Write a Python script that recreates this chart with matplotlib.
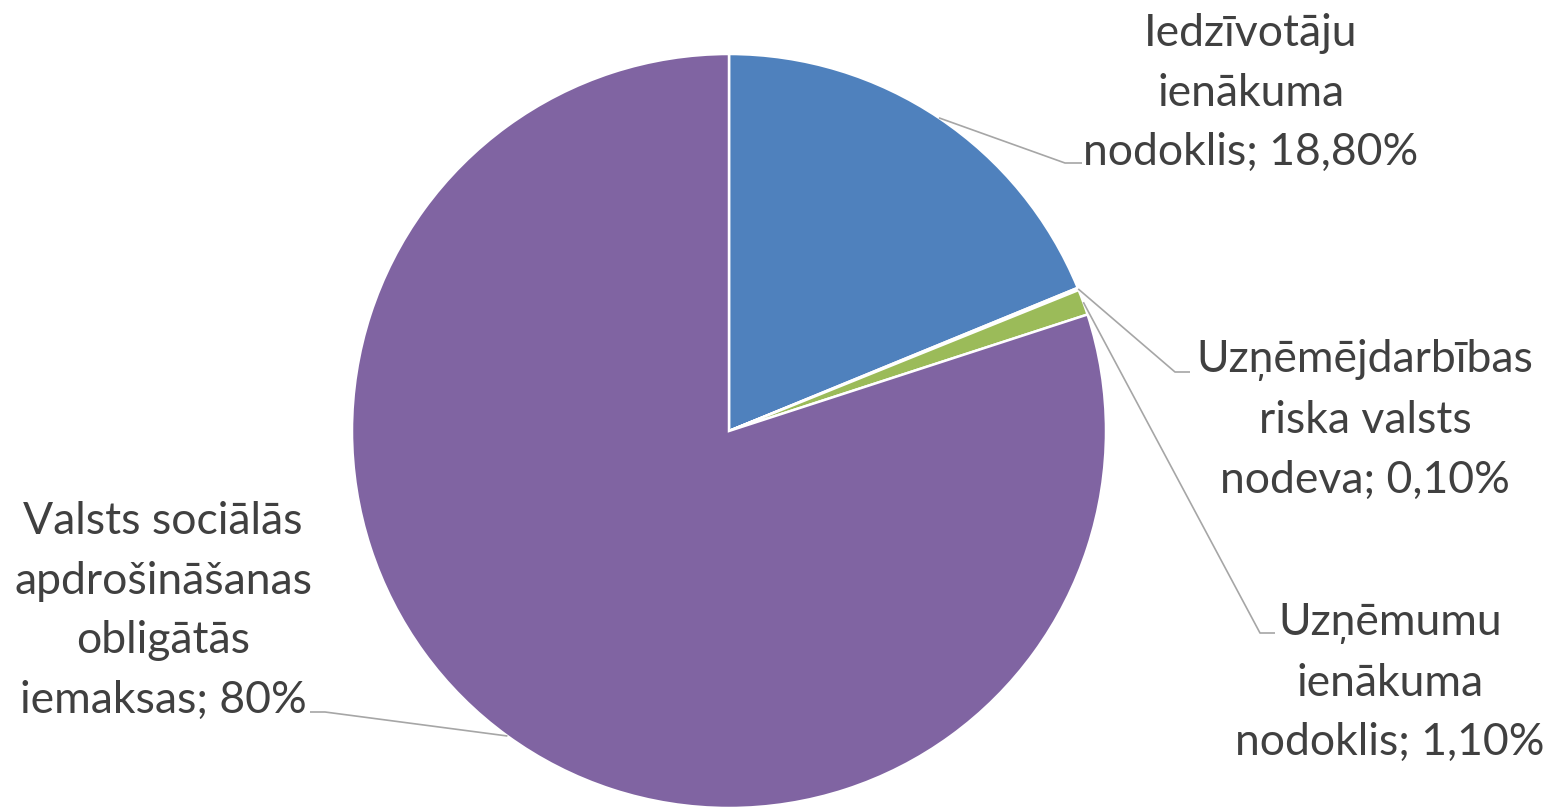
import numpy as np
import matplotlib.pyplot as plt

# data
labels = ["Iedzīvotāju\nienākuma\nnodoklis; 18,80%",
          "Uzņēmējdarbības\nriska valsts\nnodeva; 0,10%",
          "Uzņēmumu\nienākuma\nnodoklis; 1,10%",
          "Valsts sociālās\napdrošināšanas\nobligātās\niemaksas; 80%"]
shares = [18.8, 0.1, 1.1, 80.0]
colors = ["#4F81BD", "#C0504D", "#9BBB59", "#8064A2"]

W, H = 1550, 807
fig = plt.figure(figsize=(W / 100, H / 100), dpi=100)
ax = fig.add_axes([0, 0, 1, 1])

cx, cy, r = 729, H - 431, 377
wedges, _ = ax.pie(shares, colors=colors, startangle=90, counterclock=False,
                   center=(cx, cy), radius=r, frame=True,
                   wedgeprops=dict(edgecolor="white", linewidth=1.8))
ax.set_xlim(0, W)
ax.set_ylim(0, H)
ax.set_aspect("equal")
ax.axis("off")

# label layout (pixel coords, y from top): text centre, elbow, line end
layout = [
    ((1251, 93), (1065, 163), (1082, 163)),
    ((1365, 420), (1175, 372), (1190, 372)),
    ((1390, 683), (1260, 633), (1275, 633)),
    ((163, 611), (325, 712), (310, 712)),
]

for w, lab, (tpos, elbow, end) in zip(wedges, labels, layout):
    mid = np.deg2rad((w.theta1 + w.theta2) / 2)
    px, py = cx + r * np.cos(mid), cy + r * np.sin(mid)
    ax.plot([px, elbow[0], end[0]], [py, H - elbow[1], H - end[1]],
            color="#A6A6A6", lw=1.2, solid_capstyle="butt", zorder=3)
    ax.text(tpos[0], H - tpos[1], lab, ha="center", va="center",
            fontsize=32, color="#404040", linespacing=1.57,
            family=["Lato", "DejaVu Sans"])

fig.savefig("out.png", dpi=100)
